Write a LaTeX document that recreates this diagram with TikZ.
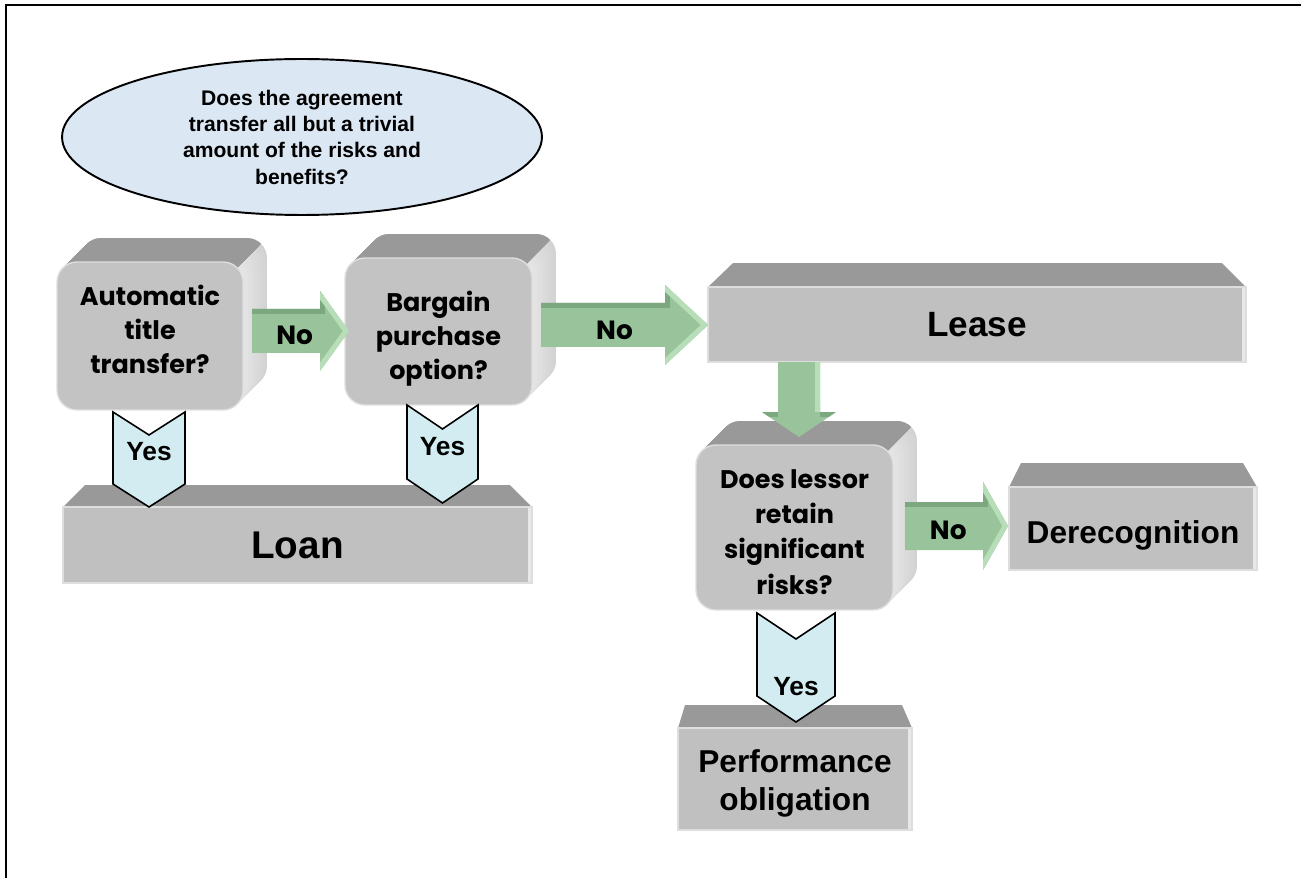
\documentclass[tikz,border=0pt]{standalone}
\usepackage{fontspec}
\setmainfont{Liberation Sans}
\newfontfamily\gothic{Poppins}
\usetikzlibrary{shapes.geometric,calc,backgrounds}

\definecolor{ovalblue}{HTML}{DCE7F4}
\definecolor{chevblue}{HTML}{D2ECF1}
\definecolor{gmid}{HTML}{98C39B}
\definecolor{gdark}{HTML}{7CA880}
\definecolor{glight}{HTML}{B7DEB8}
\definecolor{frontgray}{HTML}{C3C3C3}
\definecolor{slabgray}{HTML}{C0C0C0}
\definecolor{topgray}{HTML}{999999}

% green block arrow: tail, tip, shaft half, head half, head length (px)
\newcommand{\greenarrow}[5]{%
  \begin{scope}
    \clip ($(#1)+(0,-#3)$) -- ($(#2)+(-#5,-#3)$) -- ($(#2)+(-#5,-#4)$) -- (#2)
      -- ($(#2)+(-#5,#4)$) -- ($(#2)+(-#5,#3)$) -- ($(#1)+(0,#3)$) -- cycle;
    \fill[gmid] ($(#1)+(0,-#4)$) rectangle ($(#2)+(0,#4)$);
    \draw[gdark, line width=5.7pt] ($(#1)+(0,-#3)$) -- ($(#2)+(-#5,-#3)$) -- ($(#2)+(-#5,-#4)$);
    \draw[glight, line width=5.7pt] ($(#2)+(-#5,-#4)$) -- (#2) -- ($(#2)+(-#5,#4)$);
  \end{scope}}

% yes chevron: top, tip, half width, depth (px)
\newcommand{\yeschevron}[4]{%
  \draw[chev] ($(#1)+(-#3,0)$) -- ($(#1)+(0,#4)$) -- ($(#1)+(#3,0)$)
    -- ($(#2)+(#3,-#4)$) -- (#2) -- ($(#2)+(-#3,-#4)$) -- cycle;}

\begin{document}
\begin{tikzpicture}[
    x=0.02cm, y=-0.02cm,
    every node/.style={inner sep=0pt, outer sep=0pt},
    oval/.style={ellipse, draw, line width=1.1pt, fill=ovalblue, minimum width=9.6cm, minimum height=3.12cm, align=center, font=\bfseries\fontsize{12}{15}\selectfont},
    question/.style={rectangle, rounded corners=0.4cm, draw=black!13, line width=0.8pt, fill=frontgray},
    qtext/.style={align=center, font=\gothic\bfseries\fontsize{14.5}{19.3}\selectfont},
    slab/.style={rectangle, draw=black!13, line width=0.8pt, fill=slabgray, align=center,
        path picture={\fill[black!9] ([xshift=-2pt]path picture bounding box.north east) rectangle (path picture bounding box.south east);}},
    slabtext/.style={align=center, font=\bfseries\fontsize{18}{21.5}\selectfont},
    chev/.style={draw, line width=0.9pt, fill=chevblue, line join=miter},
    yeslabel/.style={font=\bfseries\fontsize{15}{18}\selectfont},
    nolabel/.style={font=\gothic\bfseries\fontsize{15}{18}\selectfont}
]
    \useasboundingbox (0,0) rectangle (1301,878);
    \draw[line width=1.1pt] (6,878) -- (6,5) -- (1301,5);

    % Question
    \node[oval] (agree) at (302,137) {Does the agreement\\transfer all but a trivial\\amount of the risks and\\benefits?};

    % Tests
    \node[question, minimum width=3.72cm, minimum height=2.96cm] (qA) at (150,336) {};
    \node[question, minimum width=3.74cm, minimum height=2.94cm] (qB) at (438.5,331.5) {};
    \node[question, minimum width=3.94cm, minimum height=3.3cm] (qC) at (794.5,527.5) {};
    \node[qtext] (qAtext) at ($(qA)+(0,-7)$) {Automatic\\title\\transfer?};
    \node[qtext] (qBtext) at ($(qB)+(0,7)$) {Bargain\\purchase\\option?};
    \node[qtext, font=\gothic\bfseries\fontsize{14.5}{20}\selectfont] (qCtext) at ($(qC)+(0,4.5)$) {Does lessor\\retain\\significant\\risks?};

    % Outcomes
    \node[slab, minimum width=9.38cm, minimum height=1.52cm, font=\bfseries\fontsize{22}{26}\selectfont] (loan) at (297.5,545) {Loan};
    \node[slab, minimum width=10.76cm, minimum height=1.5cm, font=\bfseries\fontsize{20}{24}\selectfont] (lease) at (977,324.5) {Lease};
    \node[slab, minimum width=4.96cm, minimum height=1.66cm] (derec) at (1133,528.5) {};
    \node[slab, minimum width=4.68cm, minimum height=2.04cm] (perf) at (795,779) {};
    \node[slabtext] (derectext) at ($(derec)+(0,7)$) {Derecognition};
    \node[slabtext] (perftext) at ($(perf)+(0,4.5)$) {Performance\\obligation};

    % 3D faces
    \begin{scope}[on background layer]
        \foreach \n in {qA,qB,qC} {
            \foreach \i in {24,...,1} {
                \pgfmathtruncatemacro\shade{10+8*\i/24}
                \fill[black!\shade, rounded corners=0.4cm] ([shift={(\i,-\i)}]\n.north west) rectangle ([shift={(\i,-\i)}]\n.south east);
            }
            \begin{scope}
                \clip ([shift={(-6,6)}]\n.north east) ++(-700,700) -- ++(1400,-1400) -- ++(-1400,0) -- cycle;
                \foreach \i in {24,...,1}
                    \fill[topgray, rounded corners=0.4cm] ([shift={(\i,-\i)}]\n.north west) rectangle ([shift={(\i,-\i)}]\n.south east);
            \end{scope}
        }
        \fill[topgray] (loan.north west) -- ++(22,-22) -- ($(loan.north east)+(-22,-22)$) -- (loan.north east) -- cycle;
        \fill[topgray] (lease.north west) -- ++(25,-24) -- ($(lease.north east)+(-24,-24)$) -- (lease.north east) -- cycle;
        \fill[topgray] (derec.north west) -- ++(12,-24) -- ($(derec.north east)+(-14,-24)$) -- (derec.north east) -- cycle;
        \fill[topgray] (perf.north west) -- ++(7,-23) -- ($(perf.north east)+(-10,-23)$) -- (perf.north east) -- cycle;
    \end{scope}

    % No arrows
    \coordinate (no1s) at ($(qA.east)+(9,-5)$);
    \coordinate (no1e) at ($(qB.west |- no1s)+(4,0)$);
    \greenarrow{no1s}{no1e}{22}{40}{29}
    \node[nolabel] (no1) at ($(no1s)!0.44!(no1e)+(0,4)$) {No};

    \coordinate (no2s) at ($(qB.east)+(9,-6.5)$);
    \coordinate (no2e) at (lease.west |- no2s);
    \greenarrow{no2s}{no2e}{22}{40}{43}
    \node[nolabel] (no2) at ($(no2s)!0.44!(no2e)+(0,5)$) {No};

    \coordinate (no3s) at ($(qC.east)+(12,-1.5)$);
    \coordinate (no3e) at ($(derec.west |- no3s)+(-1,0)$);
    \greenarrow{no3s}{no3e}{24}{44}{25}
    \node[nolabel] (no3) at ($(no3s)!0.42!(no3e)+(0,4)$) {No};

    % Lease to test
    \coordinate (dns) at ($(lease.south -| qC.north)+(4.5,0)$);
    \coordinate (dne) at ($(qC.north)+(4.5,-8)$);
    \begin{scope}
        \clip ($(dns)+(-21,0)$) -- ($(dne)+(-21,-25)$) -- ($(dne)+(-37,-25)$) -- (dne) -- ($(dne)+(37,-25)$) -- ($(dne)+(21,-25)$) -- ($(dns)+(21,0)$) -- cycle;
        \fill[gmid] ($(dns)+(-40,0)$) rectangle ($(dne)+(40,0)$);
        \draw[glight, line width=5.7pt] ($(dns)+(21,0)$) -- ($(dne)+(21,-25)$);
        \draw[gdark, line width=5.7pt] ($(dne)+(-37,-25)$) -- ($(dne)+(-21,-25)$) ($(dne)+(21,-25)$) -- ($(dne)+(37,-25)$);
    \end{scope}

    % Yes chevrons
    \coordinate (y1t) at ($(qA.south)+(-1,2)$);
    \coordinate (y1b) at (loan.north -| y1t);
    \yeschevron{y1t}{y1b}{36}{23}
    \node[yeslabel] (yes1) at ($(y1t)+(0,40)$) {Yes};

    \coordinate (y2t) at ($(qB.south)+(4,0)$);
    \coordinate (y2b) at ($(loan.north -| y2t)+(0,-4)$);
    \yeschevron{y2t}{y2b}{35.5}{24}
    \node[yeslabel] (yes2) at ($(y2t)+(0,42)$) {Yes};

    \coordinate (y3t) at ($(qC.south)+(1.5,3)$);
    \coordinate (y3b) at ($(perf.north -| y3t)+(0,-6)$);
    \yeschevron{y3t}{y3b}{39}{26}
    \node[yeslabel] (yes3) at ($(y3t)+(0,74)$) {Yes};
\end{tikzpicture}
\end{document}
